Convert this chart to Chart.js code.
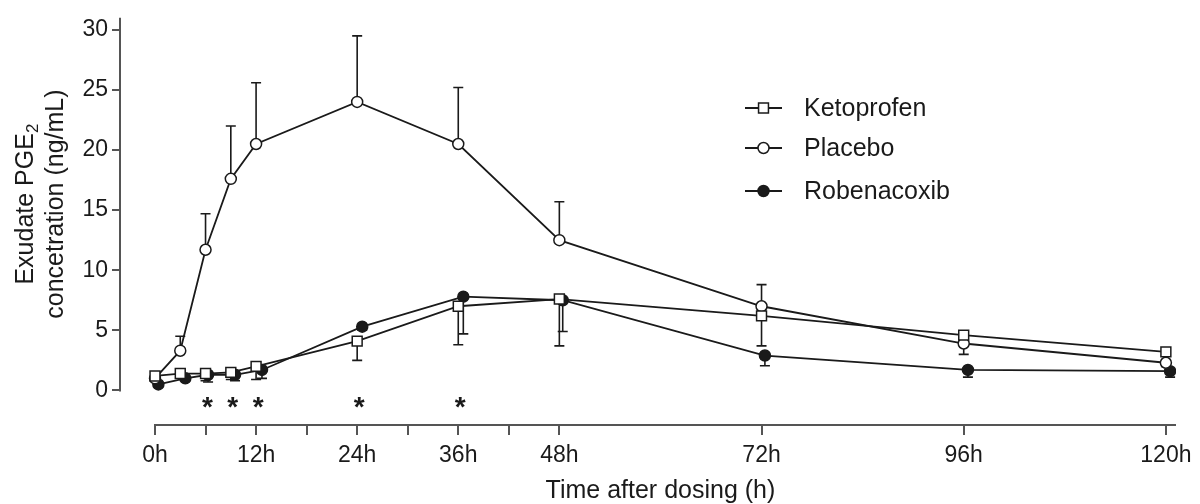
<!DOCTYPE html>
<html>
<head>
<meta charset="utf-8">
<script src="https://cdn.jsdelivr.net/npm/chart.js@4.4.1/dist/chart.umd.min.js"></script>
<style>
  body { margin: 0; background: #fff; }
  #wrap { width: 1200px; height: 504px; }
</style>
</head>
<body>
<div id="wrap"><canvas id="pgeChart"></canvas></div>
<script>
// Sampling times (h)
const times = [0, 3, 6, 9, 12, 24, 36, 48, 72, 96, 120];
// Robenacoxib points sit a little to the right in the figure
const robTimes = [0.4, 3.6, 6.3, 9.5, 12.7, 24.6, 36.6, 48.4, 72.4, 96.5, 120.5];

// Mean exudate PGE2 (ng/mL)
const ketoprofen = [1.2, 1.4, 1.4, 1.5, 2.0, 4.1, 7.0, 7.6, 6.2, 4.6, 3.2];
const placebo = [1.0, 3.3, 11.7, 17.6, 20.5, 24.0, 20.5, 12.5, 7.0, 3.9, 2.3];
const robenacoxib = [0.5, 1.0, 1.3, 1.3, 1.7, 5.3, 7.8, 7.5, 2.9, 1.7, 1.6];

// Where each error bar ends (ng/mL)
const ketoprofenErr = [0.9, 1.1, 0.8, 0.9, 0.9, 2.5, 3.8, 3.7, 3.7, 4.2, 2.9];
const placeboErr = [1.3, 4.5, 14.7, 22.0, 25.6, 29.5, 25.2, 15.7, 8.8, 3.0, 2.0];
const robenacoxibErr = [0.3, 0.8, 0.7, 0.8, 1.0, 5.0, 4.7, 4.9, 2.05, 1.1, 1.1];

// Significant differences marked with *
const sigTimes = [6, 9, 12, 24, 36];

// Axis ticks
const xMajorTicks = [0, 12, 24, 36, 48, 72, 96, 120];
const xMinorTicks = [6, 18, 30, 42];
const yTicks = [0, 5, 10, 15, 20, 25, 30];

const FONT = "'Liberation Sans', Arial, sans-serif";
const INK = '#1a1a1a';
const AXIS = '#555555';

const series = [
    { label: 'Ketoprofen', t: times, v: ketoprofen, e: ketoprofenErr, style: 'rect', radius: 7, fill: '#fff' },
    { label: 'Placebo', t: times, v: placebo, e: placeboErr, style: 'circle', radius: 5.5, fill: '#fff' },
    { label: 'Robenacoxib', t: robTimes, v: robenacoxib, e: robenacoxibErr, style: 'circle', radius: 5.5, fill: INK }
];

const datasets = series.map(s => ({
    label: s.label,
    data: s.t.map((t, i) => ({ x: t, y: s.v[i] })),
    borderColor: INK,
    borderWidth: 1.8,
    tension: 0,
    pointStyle: s.style,
    pointRadius: s.radius,
    pointBorderWidth: 1.5,
    pointBorderColor: INK,
    pointBackgroundColor: s.fill,
    fill: false
}));

// Error bars, axis lines, titles, legend and asterisks
const decorations = {
    id: 'decorations',
    beforeDatasetsDraw(chart) {
        const { ctx, scales: { x, y } } = chart;
        ctx.save();
        ctx.strokeStyle = INK;
        ctx.lineWidth = 1.6;
        series.forEach(s => {
            s.t.forEach((t, i) => {
                const px = x.getPixelForValue(t);
                const y1 = y.getPixelForValue(s.v[i]);
                const y2 = y.getPixelForValue(s.e[i]);
                ctx.beginPath();
                ctx.moveTo(px, y1);
                ctx.lineTo(px, y2);
                ctx.moveTo(px - 5, y2);
                ctx.lineTo(px + 5, y2);
                ctx.stroke();
            });
        });
        ctx.restore();
    },
    afterDraw(chart) {
        const { ctx, chartArea, scales: { x, y } } = chart;
        ctx.save();

        // offset axis lines
        ctx.strokeStyle = AXIS;
        ctx.lineWidth = 2;
        ctx.beginPath();
        ctx.moveTo(chartArea.left, y.getPixelForValue(31));
        ctx.lineTo(chartArea.left, y.getPixelForValue(0) + 1);
        ctx.moveTo(x.getPixelForValue(0) - 1, chartArea.bottom);
        ctx.lineTo(x.getPixelForValue(121.2), chartArea.bottom);
        ctx.stroke();

        ctx.fillStyle = INK;

        // asterisks
        ctx.font = 'bold 28px ' + FONT;
        ctx.textAlign = 'center';
        ctx.textBaseline = 'alphabetic';
        sigTimes.forEach(t => {
            ctx.fillText('*', x.getPixelForValue(t) + 2, y.getPixelForValue(-0.85) + 15);
        });

        // x title
        ctx.font = '25px ' + FONT;
        ctx.fillText('Time after dosing (h)', (x.getPixelForValue(0) + x.getPixelForValue(120)) / 2, 498);

        // y title (two lines, rotated)
        const cy = (y.getPixelForValue(0) + y.getPixelForValue(31)) / 2;
        ctx.save();
        ctx.translate(33, cy);
        ctx.rotate(-Math.PI / 2);
        ctx.font = '25px ' + FONT;
        const main = 'Exudate PGE';
        const w = ctx.measureText(main).width;
        ctx.font = '17px ' + FONT;
        const ws = ctx.measureText('2').width;
        ctx.textAlign = 'left';
        ctx.font = '25px ' + FONT;
        ctx.fillText(main, -(w + ws) / 2, 0);
        ctx.font = '17px ' + FONT;
        ctx.fillText('2', -(w + ws) / 2 + w, 5);
        ctx.font = '25px ' + FONT;
        ctx.textAlign = 'center';
        ctx.fillText('concetration (ng/mL)', 0, 30);
        ctx.restore();

        // legend
        const rows = [108, 148, 191];
        ctx.font = '25px ' + FONT;
        ctx.textAlign = 'left';
        ctx.textBaseline = 'middle';
        series.forEach((s, i) => {
            const ly = rows[i];
            ctx.strokeStyle = INK;
            ctx.lineWidth = 1.8;
            ctx.beginPath();
            ctx.moveTo(745, ly);
            ctx.lineTo(782, ly);
            ctx.stroke();
            ctx.lineWidth = 1.5;
            ctx.fillStyle = s.fill;
            ctx.beginPath();
            if (s.style === 'rect') {
                const h = s.radius * Math.SQRT1_2;
                ctx.rect(763.5 - h, ly - h, 2 * h, 2 * h);
            } else {
                ctx.arc(763.5, ly, s.radius, 0, Math.PI * 2);
            }
            ctx.fill();
            ctx.stroke();
            ctx.fillStyle = INK;
            ctx.fillText(s.label, 804, ly + 1);
        });

        ctx.restore();
    }
};

new Chart(document.getElementById('pgeChart'), {
    type: 'line',
    data: { datasets: datasets },
    options: {
        responsive: true,
        maintainAspectRatio: false,
        animation: false,
        layout: { padding: { top: 13, right: 24, left: 0, bottom: 0 } },
        plugins: {
            legend: { display: false },
            tooltip: { enabled: false }
        },
        scales: {
            x: {
                type: 'linear',
                min: -4.154,
                max: 121.2,
                afterBuildTicks: (scale) => {
                    scale.ticks = [...xMajorTicks, ...xMinorTicks].sort((a, b) => a - b).map(v => ({ value: v }));
                },
                afterFit: (scale) => { scale.height = 79; },
                ticks: {
                    autoSkip: false,
                    maxRotation: 0,
                    padding: 7,
                    color: INK,
                    font: { family: FONT, size: 23 },
                    callback: (value) => xMajorTicks.includes(value) ? value + 'h' : ''
                },
                grid: {
                    drawOnChartArea: false,
                    drawTicks: true,
                    tickLength: 10,
                    lineWidth: 2,
                    color: AXIS
                },
                border: { display: false }
            },
            y: {
                min: -2.88,
                max: 31,
                afterBuildTicks: (scale) => {
                    scale.ticks = yTicks.map(v => ({ value: v }));
                },
                afterFit: (scale) => { scale.width = 120; },
                ticks: {
                    padding: 4,
                    color: INK,
                    font: { family: FONT, size: 23 }
                },
                grid: {
                    drawOnChartArea: false,
                    drawTicks: true,
                    tickLength: 8,
                    lineWidth: 2,
                    color: AXIS
                },
                border: { display: false }
            }
        }
    },
    plugins: [decorations]
});
</script>
</body>
</html>
